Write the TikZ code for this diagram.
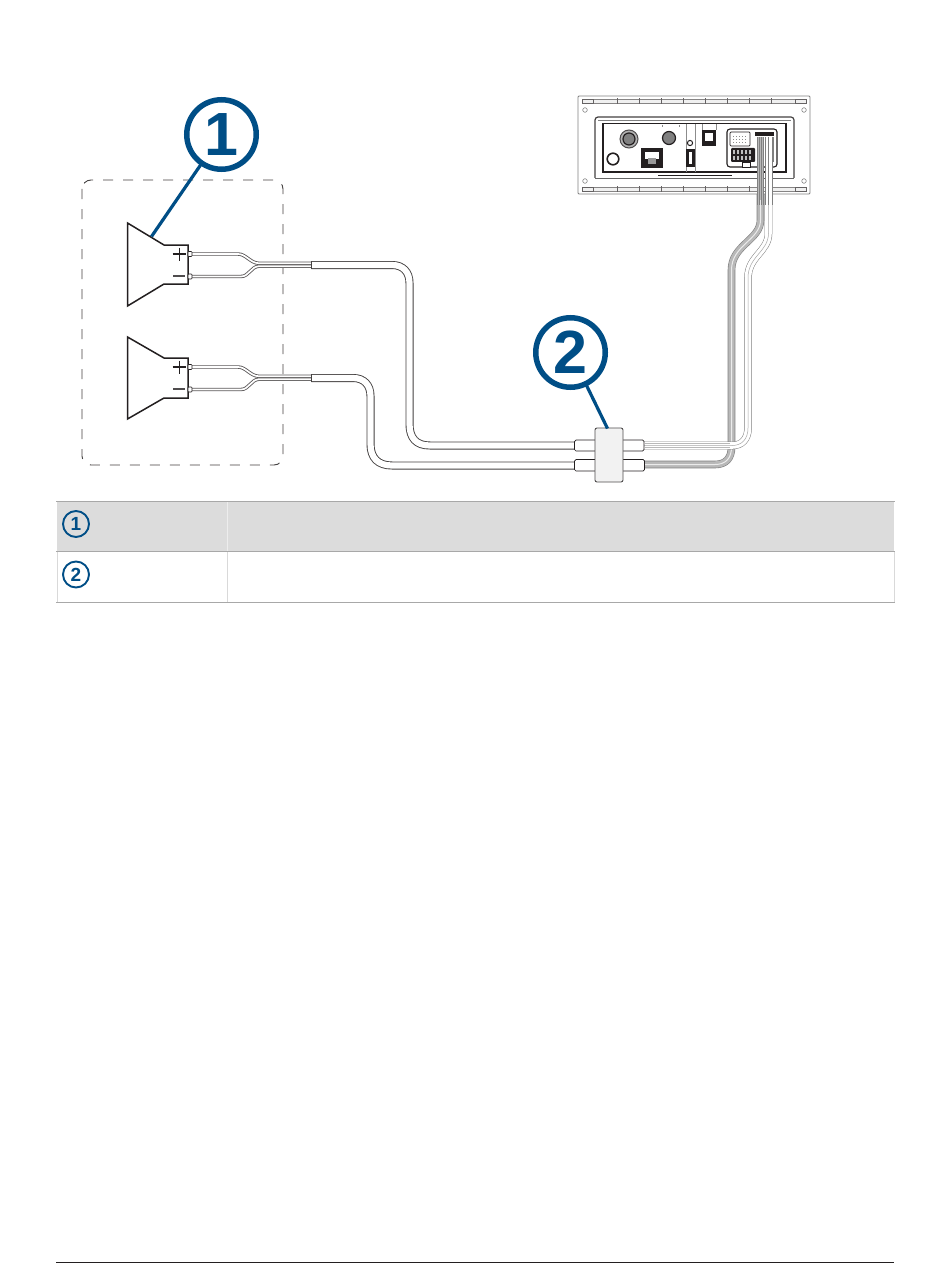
\documentclass[tikz,border=0pt]{standalone}
\usepackage{fontspec}
\setmainfont{Liberation Sans}
\definecolor{gblue}{HTML}{004E86}
\definecolor{hdr}{HTML}{DCDCDC}
\definecolor{rule}{HTML}{A8A8A8}
\definecolor{ink}{HTML}{231F20}
\definecolor{boxfill}{HTML}{F2F2F2}
\tikzset{
 x=1pt,y=-1pt,
 callout/.style={circle,draw=gblue,line width=5.5pt,fill=white,minimum size=69.5pt,inner sep=0pt,text=gblue,font=\fontsize{61}{61}\selectfont\bfseries},
 smallcall/.style={circle,draw=gblue,line width=1.9pt,minimum size=26pt,inner sep=0pt,text=gblue,font=\fontsize{19}{19}\selectfont\bfseries},
 leader/.style={draw=gblue,line width=3.2pt},
 cone/.style={draw=ink,line width=1.5pt,fill=white,line join=miter},
 wireo/.style={draw=ink!75,line width=3.4pt},
 wirei/.style={draw=white,line width=1.7pt},
 cabo/.style={draw=ink!85,line width=8pt},
 cabi/.style={draw=white,line width=6.2pt},
 grayo/.style={draw=black!50,line width=7.6pt},
 grayi/.style={draw=black!28,line width=6.4pt},
 grayl/.style={draw=black!8,line width=1pt},
 whito/.style={draw=black!50,line width=7.6pt},
 whiti/.style={draw=white,line width=6.6pt},
 whitl/.style={draw=black!35,line width=.5pt},
 stub/.style={draw=ink,line width=.7pt,fill=white,rounded corners=1.5pt},
 coupler/.style={draw=ink!80,line width=.9pt,fill=boxfill,rounded corners=2pt},
 unit/.style={draw=black!50,line width=.9pt,rounded corners=1pt},
}
\begin{document}
\begin{tikzpicture}
\useasboundingbox (0,0) rectangle (950,1276);
\fill[white] (0,0) rectangle (950,1276);
% dashed enclosure
\draw[draw=ink!85,line width=.9pt,dash pattern=on 10pt off 10pt,rounded corners=9pt] (82,180) rectangle (283,465);

% table
\fill[hdr] (57,502) rectangle (894,551);
\draw[black!7,line width=.4pt] (227,502) -- (227,551);
\draw[black!15,line width=.8pt] (227,551) -- (227,602);
\draw[black!15,line width=.8pt] (57,551) -- (57,602);
\draw[black!15,line width=.8pt] (894,551) -- (894,602);
\draw[rule,line width=.9pt] (56,501.5) -- (894.5,501.5);
\draw[rule,line width=.9pt] (56,551.5) -- (894.5,551.5);
\draw[rule,line width=.9pt] (56,602.5) -- (894.5,602.5);
\node[smallcall] (s1) at (76,524) {1};
\node[smallcall] (s2) at (76,574.5) {2};
\draw[draw=ink,line width=.8pt] (56,1262) -- (894,1262);

% speakers
\draw[cone] (127.5,223) -- (164,245) -- (188,245) -- (188,284) -- (164,284) -- (127.5,306) -- cycle;
\draw[cone] (127.5,337) -- (164,358) -- (188,358) -- (188,398) -- (164,398) -- (127.5,419) -- cycle;
\foreach \dy in {0,113}{
 \begin{scope}[yshift=-\dy pt]
 \draw[draw=ink,line width=1.1pt] (172.5,254) -- (186,254) (179.2,247.5) -- (179.2,260.5);
 \draw[draw=ink!80,line width=1.4pt] (173,276) -- (185,276);
 \draw[wireo] (191,254) -- (238,254) .. controls (246,254) and (250,263) .. (259,263.3) -- (311,263.3);
 \draw[wireo] (191,276.5) -- (241,276.5) .. controls (249,276.5) and (251,266.5) .. (259,266.2) -- (311,266.2);
 \draw[wirei] (191,254) -- (238,254) .. controls (246,254) and (250,263) .. (259,263.3) -- (311,263.3);
 \draw[wirei] (191,276.5) -- (241,276.5) .. controls (249,276.5) and (251,266.5) .. (259,266.2) -- (311,266.2);
 \draw[draw=ink,line width=.6pt,fill=white,rounded corners=.8pt] (188,251.5) rectangle (192,256.5);
 \draw[draw=ink,line width=.6pt,fill=white,rounded corners=.8pt] (188,274) rectangle (192,279);
 \end{scope}
}

% lower grey bundle, then upper light bundle over it
\def\lowpath{(640,464.5) -- (715,464.5) .. controls (726,464.5) and (731.5,458) .. (731.5,447) -- (731.5,270) .. controls (731.5,245) and (760.5,240) .. (760.5,220) -- (760.5,140)}
\def\uppath{(640,445.5) -- (732,445.5) .. controls (742,445.5) and (748,439) .. (748,428) -- (748,278) .. controls (748,256) and (768.5,252) .. (768.5,233) -- (768.5,140)}
\draw[grayo] \lowpath;
\draw[grayi] \lowpath;
\draw[grayl] \lowpath;
\draw[whito] \uppath;
\draw[whiti] \uppath;
\draw[whitl] \uppath;
\fill[black!28] (645,443) rectangle (730,444.3);
\fill[black!28] (645,446.7) rectangle (730,448);

% black cables
\def\capa{(311.4,265) -- (392,265) .. controls (403,265) and (409.5,272) .. (409.5,283) -- (409.5,424) .. controls (409.5,438) and (416,445.5) .. (430,445.5) -- (577,445.5)}
\def\capb{(311.4,378) -- (353,378) .. controls (364,378) and (370.5,385) .. (370.5,396) -- (370.5,444) .. controls (370.5,458) and (378,465.5) .. (392,465.5) -- (577,465.5)}
\draw[cabo] \capa;
\draw[cabi] \capa;
\draw[cabo] \capb;
\draw[cabi] \capb;
\draw[draw=ink!85,line width=1pt] (311.4,261) -- (311.4,269);
\draw[draw=ink!85,line width=1pt] (311.4,374) -- (311.4,382);

% coupler
\draw[stub] (574.5,440) rectangle (600,451);
\draw[stub] (574.5,459.5) rectangle (600,471);
\draw[stub] (618,440) rectangle (644,451);
\draw[stub] (618,459.5) rectangle (644.5,471);
\node[coupler,minimum width=28pt,minimum height=54pt,inner sep=0pt] (cpl) at (609,455) {};

% head unit
\fill[white] (578,95) rectangle (810,194);
\draw[unit] (578,96) -- (810,96) -- (810,194) -- (578,194) -- cycle;
\foreach \y in {99.5,187.5}{
 \fill[black!6] (582,\y) rectangle (806,\y+3.5);
 \draw[draw=ink!55,line width=.6pt] (582,\y) -- (806,\y);
 \draw[draw=ink!55,line width=.6pt] (582,\y+3.5) -- (806,\y+3.5);
 \foreach \x in {617,639,661,683,705,727,749,771}{\draw[draw=ink!70,line width=.8pt] (\x,\y-1) -- (\x,\y+4.5);}
 \draw[draw=ink!70,line width=.8pt] (582,\y-.5) rectangle (593,\y+4);
 \draw[draw=ink!70,line width=.8pt] (795,\y-.5) rectangle (806,\y+4);
}
\foreach \x/\y in {585/110,804/110,585/181,804/181}{\draw[draw=black!55,line width=.5pt] (\x,\y) circle (2.3);}
\draw[draw=ink!85,line width=1.2pt,rounded corners=3pt] (595,178) -- (595,117) -- (794,117) -- (794,178);
\draw[draw=black!60,line width=.8pt] (595,178) -- (794,178);
\draw[draw=black!50,line width=.5pt] (598,120) -- (791,120);
\draw[draw=ink,line width=1.4pt] (603,123.5) rectangle (786,172);
\draw[draw=ink,line width=.7pt] (658,175) -- (732,175);
% connectors
\draw[draw=ink!80,line width=1pt,fill=black!30] (629,139) circle (9);
\draw[draw=ink,line width=1.2pt,fill=black!50] (629,139) circle (6);
\draw[draw=ink,line width=1.6pt,fill=white] (613,159) circle (5.8);
\fill[ink] (641,148) rectangle (663,168);
\fill[white] (645,152) rectangle (659,159);
\fill[black!40] (648,158) rectangle (656,164);
\draw[draw=black!45,line width=.5pt] (662,125) -- (662,127) (679,125) -- (679,127);
\draw[draw=ink,line width=1.2pt,fill=black!50] (669,138) circle (6.5);
\draw[draw=black!45,line width=.5pt] (686,124) -- (686,172) (695,124) -- (695,172);
\draw[draw=ink,line width=1pt,fill=white] (690,143) circle (2.6);
\fill[ink] (686,149) rectangle (695,167);
\fill[white] (689,152) rectangle (692,164);
\draw[draw=black!45,line width=.5pt] (702,124) -- (702,130) (716,124) -- (716,130);
\fill[ink] (702,130) rectangle (716,146);
\fill[white] (705,133) rectangle (713,141);
\draw[draw=ink,line width=1.1pt,rounded corners=3pt,fill=white] (727,129) rectangle (777,167);
\draw[draw=ink,line width=.7pt,rounded corners=1pt,fill=white] (730,132) rectangle (750,146);
\foreach \x in {733,736,...,747}{\foreach \y in {136,139,142}{\fill[black!45] (\x,\y) rectangle +(1.3,1.3);}}
\fill[ink,rounded corners=1pt] (731,148) rectangle (755,162);
\foreach \x in {733,737,...,749}{\foreach \y in {150,156}{\fill[black!25] (\x,\y) rectangle +(2.4,4);}}
\draw[draw=ink,line width=.7pt,fill=white] (742,162) rectangle (750,167);
% plug and bundle start
\fill[ink] (755,132.5) rectangle (774,136.5);
\fill[black!28] (757,137) rectangle (764,200);
\fill[white] (765,137) rectangle (772,200);
\foreach \x in {757,759,761,763.5,765,768.5,772}{\draw[draw=black!50,line width=.5pt] (\x,137) -- (\x,205);}
\draw[draw=black!50,line width=.7pt] (773.5,137) -- (773.5,162);

% callouts
\coordinate (cc1) at (221.5,134.5);
\coordinate (cc2) at (570.5,352.5);
\coordinate (t1) at (151.5,236.5);
\coordinate (t2) at (607.5,428.5);
\draw[leader] (cc1) -- (t1);
\draw[leader] (cc2) -- (t2);
\node[callout] (c1) at (cc1) {1};
\node[callout] (c2) at (cc2) {2};
\end{tikzpicture}
\end{document}
